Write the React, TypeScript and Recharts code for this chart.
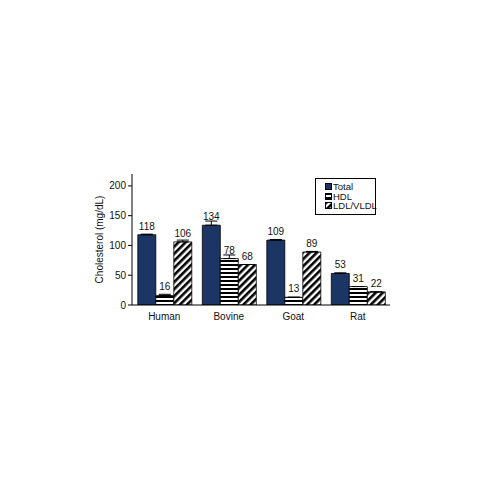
import React from "react";
import {
  BarChart,
  Bar,
  XAxis,
  YAxis,
  LabelList,
  ErrorBar,
  Legend,
} from "recharts";

const categories = ["Human", "Bovine", "Goat", "Rat"];
const totalValues = [118, 134, 109, 53];
const hdlValues = [16, 78, 13, 31];
const ldlValues = [106, 68, 89, 22];
// upper error only (lower half hides inside the bar in the original)
const totalErr = [1, 7, 1, 1];
const hdlErr = [2, 6, 0, 0];
const ldlErr = [3, 0, 1, 0];
const yTicks = [0, 50, 100, 150, 200];

const data = categories.map((name, i) => ({
  name,
  total: totalValues[i],
  hdl: hdlValues[i],
  ldl: ldlValues[i],
  totalErr: [0, totalErr[i]],
  hdlErr: [0, hdlErr[i]],
  ldlErr: [0, ldlErr[i]],
}));

const FONT = "'Liberation Sans', Arial, sans-serif";
const NAVY = "#1b3565";

const legendItems = [
  { label: "Total", fill: NAVY },
  { label: "HDL", fill: "url(#hstripe)" },
  { label: "LDL/VLDL", fill: "url(#dstripe)" },
];

function ChartLegend() {
  return (
    <div
      style={{
        border: "1px solid #000",
        background: "#fff",
        padding: "3px 2px 3px 9px",
        fontFamily: FONT,
        fontSize: 9.5,
        lineHeight: "9.5px",
        color: "#111",
        whiteSpace: "nowrap",
        boxSizing: "border-box",
        width: 61,
      }}
    >
      {legendItems.map((it) => (
        <div key={it.label} style={{ display: "flex", alignItems: "center" }}>
          <svg width={7} height={7} style={{ marginRight: 1, flexShrink: 0 }}>
            <rect x={0.5} y={0.5} width={6} height={6} fill={it.fill} stroke="#000" />
          </svg>
          <span>{it.label}</span>
        </div>
      ))}
    </div>
  );
}

export default function App() {
  return (
    <div style={{ width: 500, height: 500, background: "#fff" }}>
      <BarChart
        width={492}
        height={492}
        data={data}
        margin={{ top: 166, right: 110, left: 84, bottom: 165 }}
        barCategoryGap="9%"
        barGap={0}
      >
        <defs>
          <pattern id="hstripe" width={4} height={4} patternUnits="userSpaceOnUse">
            <rect width={4} height={4} fill="#fff" />
            <rect y={0} width={4} height={2} fill="#000" />
          </pattern>
          <pattern
            id="dstripe"
            width={5}
            height={5}
            patternUnits="userSpaceOnUse"
            patternTransform="rotate(45)"
          >
            <rect width={5} height={5} fill="#fff" />
            <rect x={0} width={2.6} height={5} fill="#000" />
          </pattern>
        </defs>
        <XAxis
          dataKey="name"
          tickLine={false}
          axisLine={{ stroke: "#000" }}
          tick={{ fill: "#111", fontSize: 10, fontFamily: FONT }}
          height={30}
        />
        <XAxis
          xAxisId="top"
          dataKey="name"
          orientation="top"
          tick={false}
          tickLine={false}
          axisLine={{ stroke: "#c8c8c8" }}
          height={0}
        />
        <YAxis
          domain={[0, 220]}
          ticks={yTicks}
          tickSize={4}
          tickLine={{ stroke: "#000" }}
          axisLine={{ stroke: "#000" }}
          tick={{ fill: "#111", fontSize: 10, fontFamily: FONT }}
          width={40}
          allowDataOverflow
          label={{
            value: "Cholesterol (mg/dL)",
            angle: -90,
            position: "insideLeft",
            offset: 7,
            style: { fontSize: 10, fontFamily: FONT, fill: "#111", textAnchor: "middle" },
          }}
        />
        <YAxis
          yAxisId="right"
          orientation="right"
          domain={[0, 220]}
          tick={false}
          tickLine={false}
          axisLine={{ stroke: "#c8c8c8" }}
          width={0}
        />
        <Legend
          layout="horizontal"
          verticalAlign="middle"
          align="center"
          content={<ChartLegend />}
          wrapperStyle={{ position: "absolute", left: 307, top: 170, width: 61 }}
        />
        <Bar dataKey="total" name="Total" fill={NAVY} stroke="#000" strokeWidth={0.8} isAnimationActive={false}>
          <ErrorBar dataKey="totalErr" width={6} stroke="#000" strokeWidth={1} direction="y" />
          <LabelList dataKey="total" position="top" offset={5} style={{ fontSize: 10, fontFamily: FONT, fill: "#111" }} />
        </Bar>
        <Bar dataKey="hdl" name="HDL" fill="url(#hstripe)" stroke="#000" strokeWidth={0.8} isAnimationActive={false}>
          <ErrorBar dataKey="hdlErr" width={6} stroke="#000" strokeWidth={1} direction="y" />
          <LabelList dataKey="hdl" position="top" offset={5} style={{ fontSize: 10, fontFamily: FONT, fill: "#111" }} />
        </Bar>
        <Bar dataKey="ldl" name="LDL/VLDL" fill="url(#dstripe)" stroke="#000" strokeWidth={0.8} isAnimationActive={false}>
          <ErrorBar dataKey="ldlErr" width={6} stroke="#000" strokeWidth={1} direction="y" />
          <LabelList dataKey="ldl" position="top" offset={5} style={{ fontSize: 10, fontFamily: FONT, fill: "#111" }} />
        </Bar>
      </BarChart>
    </div>
  );
}
